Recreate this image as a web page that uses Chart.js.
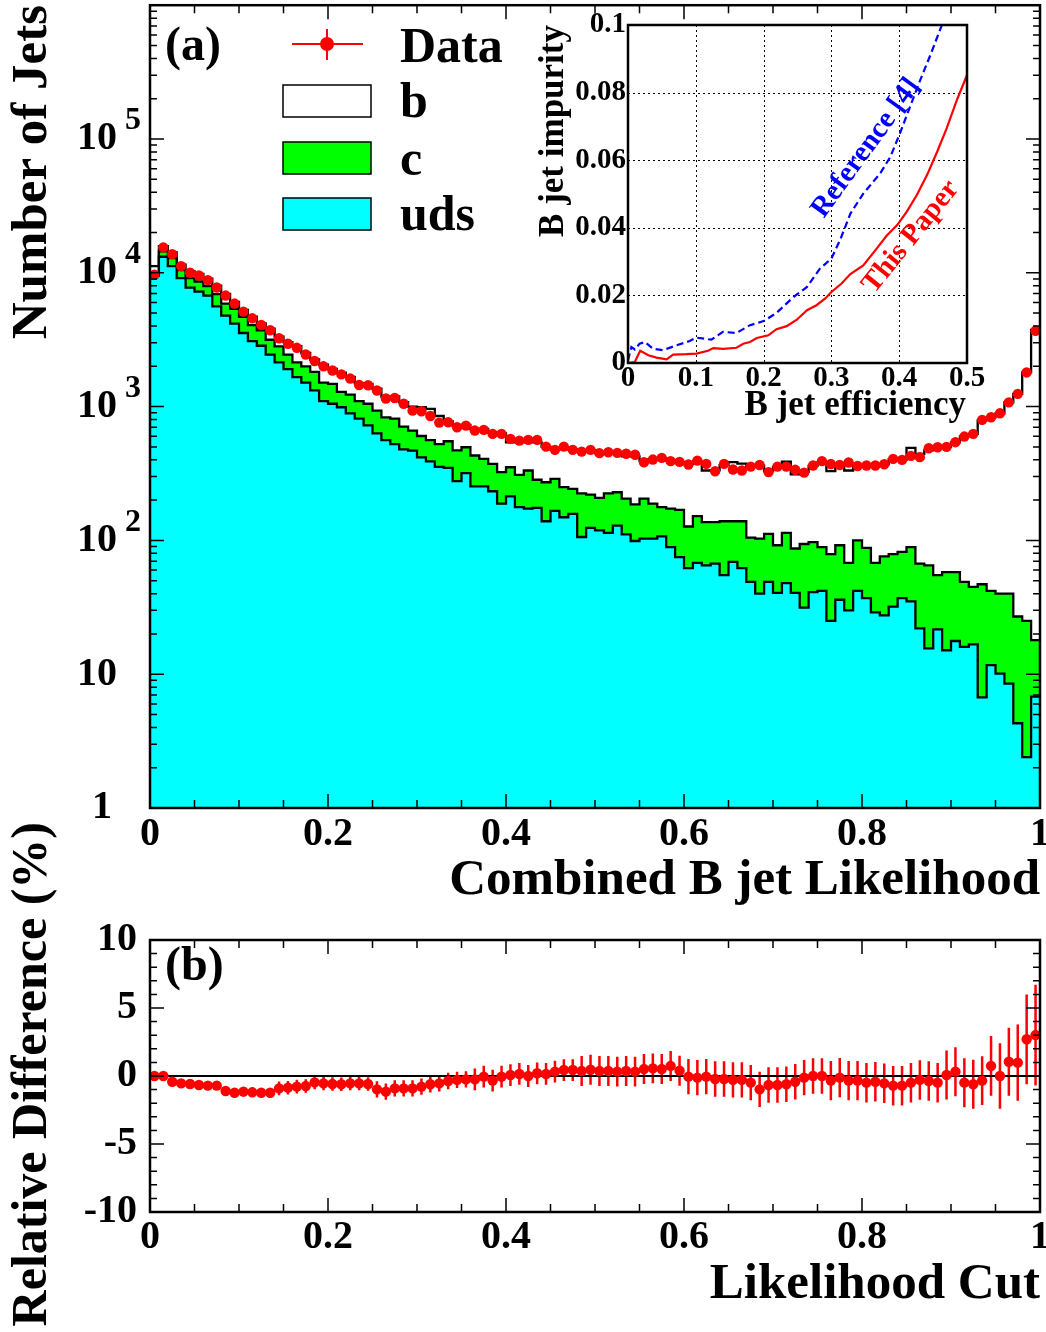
<!DOCTYPE html>
<html><head><meta charset="utf-8">
<script src="https://cdn.jsdelivr.net/npm/chart.js@4.4.1/dist/chart.umd.min.js"></script>
<style>
html,body{margin:0;padding:0;background:#fff;}
#wrap{position:relative;width:1046px;height:1332px;overflow:hidden;background:#fff;}
#wrap canvas{position:absolute;left:0;top:0;}
</style></head><body>
<div id="wrap">
<canvas id="main" width="1046" height="1332"></canvas>
<canvas id="diff" width="1046" height="1332"></canvas>
<canvas id="inset" width="1046" height="1332"></canvas>
</div>
<script>
// ---------- DATA ----------
const binWidth = 0.01;
const dataCounts = [9660,15500,13800,11220,10000,9550,8810,7760,6760,5890,
5130,4570,4070,3720,3240,2950,2750,2450,2190,2000,
1860,1740,1620,1450,1445,1320,1150,1160,1050,933,
923,851,759,764,701,721,662,670,625,625,
574,557,564,564,502,475,502,475,461,475,
449,456,451,444,437,384,402,414,391,386,
369,395,373,329,373,339,333,356,366,324,
356,356,337,321,363,391,372,366,382,360,
363,363,371,407,400,428,419,488,497,500,
542,597,625,796,832,891,1076,1245,1800,3690];
const bCounts = [11200,15850,14190,11500,10300,9800,9050,8000,6950,6050,
5280,4700,4180,3820,3330,3030,2830,2520,2250,2060,
1910,1790,1670,1500,1480,1360,1190,1190,1080,1000,
990,960,851,780,720,730,680,680,640,630,
540,540,540,540,500,478,495,478,462,470,
450,455,450,425,425,395,405,410,395,385,
372,390,333,335,365,384,375,355,362,330,
355,388,312,325,360,385,329,365,333,362,
363,360,370,405,400,492,444,470,497,500,
540,600,625,790,830,890,1076,1245,1800,3750];
const cCounts = [10000,14450,12880,10470,9120,8610,7940,6920,5890,5370,
4680,4070,3720,3160,2820,2450,2140,2000,1820,1510,
1480,1290,1230,1100,1050,933,832,813,708,661,
603,562,525,551,470,497,431,407,373,324,
352,309,333,284,272,288,250,243,225,220,
208,225,229,205,186,205,188,177,173,169,
127,152,137,137,139,139,139,105,103,112,
92,114,87,94,97,89,79,92,68,100,
88,68,76,79,82,89,67,65,55,58,
58,49,45,47,42,40,40,27,25,18];
const udsCounts = [9550,13180,11220,9120,7760,7240,6760,5620,4790,4170,
3550,3090,2850,2450,2140,1905,1660,1510,1320,1100,
1050,989,891,813,724,631,562,525,479,468,
417,389,355,348,277,318,253,253,233,188,
213,177,173,175,139,166,149,158,106,124,
119,114,129,111,99,103,103,107,89,75,
62,68,65,67,55,69,62,49,40,49,
40.5,48,40.5,31.5,41,42,25,36,30,42,
37,29,27.5,32,37,35,22,15.6,21.6,15.1,
17.7,16,16.7,6.7,11.7,10.1,8.5,4.3,2.4,6.8];
const relDiff = [0.0,0.0,-0.42,-0.54,-0.59,-0.66,-0.71,-0.71,-1.10,-1.23,
-1.15,-1.20,-1.23,-1.23,-0.91,-0.86,-0.78,-0.74,-0.47,-0.54,
-0.59,-0.61,-0.54,-0.54,-0.59,-0.98,-1.15,-0.91,-0.91,-0.91,
-0.78,-0.61,-0.54,-0.37,-0.29,-0.25,-0.25,-0.05,-0.34,-0.05,
0.07,0.15,0.0,0.2,0.15,0.32,0.44,0.44,0.37,0.46,
0.37,0.37,0.32,0.37,0.32,0.51,0.56,0.51,0.74,0.39,
-0.05,-0.12,-0.05,-0.22,-0.22,-0.29,-0.29,-0.49,-0.98,-0.66,
-0.66,-0.61,-0.42,-0.12,0.0,0.0,-0.34,-0.12,-0.34,-0.34,
-0.49,-0.42,-0.54,-0.71,-0.71,-0.49,-0.29,-0.37,-0.49,0.07,
0.32,-0.49,-0.61,-0.34,0.74,0.0,1.05,0.98,2.70,3.01];
const relDiffErr = [0.15,0.15,0.15,0.15,0.15,0.15,0.15,0.15,0.35,0.35,
0.35,0.35,0.35,0.35,0.5,0.5,0.5,0.5,0.5,0.5,
0.5,0.5,0.5,0.5,0.5,0.6,0.6,0.6,0.6,0.6,
0.6,0.6,0.6,0.6,0.6,0.6,0.8,0.8,0.8,0.8,
0.8,0.8,0.8,0.8,0.8,0.8,0.8,0.8,1.1,1.1,
1.1,1.1,1.1,1.1,1.1,1.1,1.1,1.1,1.1,1.1,
1.3,1.3,1.3,1.3,1.3,1.3,1.3,1.3,1.3,1.3,
1.3,1.3,1.3,1.3,1.3,1.3,1.45,1.45,1.45,1.45,
1.45,1.45,1.45,1.45,1.45,1.45,1.45,1.45,1.45,1.8,
1.8,1.8,1.8,1.8,2.2,2.4,2.5,2.8,3.3,3.7];
const effThis = [0,0.010,0.018,0.030,0.042,0.057,0.0665,0.086,0.101,0.118,0.126,0.140,0.160,0.170,0.180,0.190,0.207,0.219,0.234,0.249,0.264,0.278,0.291,0.300,0.315,0.328,0.347,0.367,0.382,0.397,0.411,0.426,0.441,0.456,0.470,0.485,0.495,0.500];
const impThis = [0,0.0003,0.0036,0.0023,0.0016,0.0011,0.0025,0.0026,0.0028,0.0036,0.0044,0.0042,0.0045,0.0057,0.0062,0.0074,0.0082,0.0100,0.0109,0.0128,0.0156,0.0171,0.0191,0.0210,0.0235,0.0263,0.0289,0.0339,0.0378,0.0408,0.0447,0.0497,0.0556,0.0625,0.0694,0.0778,0.0827,0.0852];
const effRef = [0,0.005,0.010,0.017,0.025,0.037,0.052,0.071,0.091,0.101,0.123,0.140,0.160,0.180,0.200,0.219,0.244,0.264,0.283,0.300,0.313,0.328,0.347,0.372,0.387,0.401,0.416,0.431,0.446,0.463];
const impRef = [0.0008,0.0047,0.0040,0.0057,0.0062,0.0042,0.0038,0.0052,0.0065,0.0075,0.0069,0.0092,0.0089,0.0112,0.0124,0.0148,0.0195,0.0225,0.0279,0.0309,0.0365,0.0442,0.0501,0.0561,0.0610,0.0679,0.0758,0.0837,0.0911,0.1000];
const xTickVals = [0,0.2,0.4,0.6,0.8,1];
const xTickLabels = ['0','0.2','0.4','0.6','0.8','1'];
const yDecades = [0,1,2,3,4,5];
const diffTickVals = [10,5,0,-5,-10];
const diffTickLabels = ['10','5','0','-5','-10'];
const insetXVals = [0,0.1,0.2,0.3,0.4,0.5];
const insetXLabels = ['0','0.1','0.2','0.3','0.4','0.5'];
const insetYVals = [0,0.02,0.04,0.06,0.08,0.1];
const insetYLabels = ['0','0.02','0.04','0.06','0.08','0.1'];

// ---------- helpers ----------
const SERIF = '"Liberation Serif","Times New Roman",serif';
const F = px => `bold ${px}px ${SERIF}`;
function txt(ctx, s, x, y, font, align, base, color, rot){
  ctx.save(); ctx.font = font; ctx.fillStyle = color || '#000';
  ctx.textAlign = align || 'left'; ctx.textBaseline = base || 'alphabetic';
  ctx.translate(x, y); if (rot) ctx.rotate(rot); ctx.fillText(s, 0, 0); ctx.restore();
}
function stepPoints(counts){
  const pts = counts.map((v, i) => ({x: i * binWidth, y: v}));
  pts.push({x: counts.length * binWidth, y: counts[counts.length - 1]});
  return pts;
}
function xTicks(ctx, a, x){
  ctx.beginPath();
  for (let k = 0; k <= 20; k++){
    const px = x.getPixelForValue(k * 0.05); const L = (k % 4 === 0) ? 14 : 8;
    ctx.moveTo(px, a.bottom); ctx.lineTo(px, a.bottom - L);
    ctx.moveTo(px, a.top); ctx.lineTo(px, a.top + L);
  }
  ctx.stroke();
}
const baseOpts = (pad) => ({
  responsive: false, animation: false, events: [],
  layout: {padding: pad},
  plugins: {legend: {display: false}, tooltip: {enabled: false}, title: {display: false}},
  elements: {line: {tension: 0}}
});

// ---------- MAIN ----------
const mainDecor = {
  id: 'mainDecor',
  afterDraw(chart){
    const {ctx, chartArea: a, scales: {x, y}} = chart;
    ctx.save();
    ctx.strokeStyle = '#000'; ctx.lineWidth = 1.5;
    xTicks(ctx, a, x);
    ctx.beginPath();
    for (const d of yDecades) for (let m = 1; m < 10; m++){
      const py = y.getPixelForValue(m * Math.pow(10, d)); const L = m === 1 ? 14 : 7;
      ctx.moveTo(a.left, py); ctx.lineTo(a.left + L, py);
      ctx.moveTo(a.right, py); ctx.lineTo(a.right - L, py);
    }
    ctx.stroke();
    ctx.lineWidth = 2.5; ctx.strokeRect(a.left, a.top, a.right - a.left, a.bottom - a.top);
    xTickVals.forEach((v, i) => txt(ctx, xTickLabels[i], x.getPixelForValue(v), 835, F(40), 'center', 'middle'));
    for (const d of yDecades){
      const py = y.getPixelForValue(Math.pow(10, d));
      if (d === 0) txt(ctx, '1', 112, py, F(40), 'right', 'middle');
      else {
        txt(ctx, '10', 117, py, F(40), 'right', 'middle');
        if (d > 1) txt(ctx, String(d), 125, py - 18, F(32), 'left', 'middle');
      }
    }
    txt(ctx, 'Combined B jet Likelihood', 1040, 894, F(51), 'right', 'alphabetic');
    txt(ctx, 'Number of Jets', 46, 5, F(51), 'right', 'alphabetic', '#000', -Math.PI/2);
    // legend
    txt(ctx, '(a)', 165, 48, F(48), 'left', 'middle');
    ctx.strokeStyle = '#ff0000'; ctx.lineWidth = 2;
    ctx.beginPath(); ctx.moveTo(292, 44); ctx.lineTo(363, 44); ctx.moveTo(327, 29); ctx.lineTo(327, 60); ctx.stroke();
    ctx.fillStyle = '#ff0000'; ctx.beginPath(); ctx.arc(327, 44, 7, 0, 2*Math.PI); ctx.fill();
    txt(ctx, 'Data', 400, 62, F(50), 'left', 'alphabetic');
    const boxes = [['b', '#ffffff', 85, 117], ['c', '#00ff00', 142, 175], ['uds', '#00ffff', 198, 230]];
    ctx.lineWidth = 1.5; ctx.strokeStyle = '#000';
    for (const [lab, col, top, base] of boxes){
      ctx.fillStyle = col; ctx.fillRect(283, top, 88, 32); ctx.strokeRect(283, top, 88, 32);
      txt(ctx, lab, 400, base, F(50), 'left', 'alphabetic');
    }
    ctx.restore();
  }
};
const histDs = (label, counts, color, order) => ({
  label, data: stepPoints(counts), stepped: true, fill: 'start',
  backgroundColor: color, borderColor: '#000', borderWidth: 2.3, pointRadius: 0, order
});
new Chart(document.getElementById('main'), {
  type: 'line',
  data: {datasets: [
    {label: 'Data', data: dataCounts.map((v, i) => ({x: (i + 0.5) * binWidth, y: v})), showLine: false,
     pointRadius: 5.2, pointBackgroundColor: '#ff0000', pointBorderColor: '#ff0000', pointBorderWidth: 0, order: 1},
    histDs('uds', udsCounts, '#00ffff', 2),
    histDs('c', cCounts, '#00ff00', 3),
    histDs('b', bCounts, '#ffffff', 4)
  ]},
  options: Object.assign(baseOpts({left: 150, top: 5, right: 6, bottom: 1332 - 808}), {
    scales: {x: {type: 'linear', min: 0, max: 1, display: false},
             y: {type: 'logarithmic', min: 1, max: 1e6, display: false}}
  }),
  plugins: [mainDecor]
});

// ---------- DIFF ----------
const diffDecor = {
  id: 'diffDecor',
  beforeDatasetsDraw(chart){
    const {ctx, scales: {x, y}} = chart;
    ctx.save(); ctx.strokeStyle = '#ff0000'; ctx.lineWidth = 2.5; ctx.beginPath();
    relDiff.forEach((v, i) => {
      const px = x.getPixelForValue((i + 0.5) * binWidth);
      ctx.moveTo(px, y.getPixelForValue(v - relDiffErr[i])); ctx.lineTo(px, y.getPixelForValue(v + relDiffErr[i]));
    });
    ctx.stroke(); ctx.restore();
  },
  afterDraw(chart){
    const {ctx, chartArea: a, scales: {x, y}} = chart;
    ctx.save(); ctx.strokeStyle = '#000'; ctx.lineWidth = 1.5;
    xTicks(ctx, a, x);
    ctx.beginPath();
    for (let v = -10; v <= 10; v++){
      const py = y.getPixelForValue(v); const L = (v % 5 === 0) ? 14 : 7;
      ctx.moveTo(a.left, py); ctx.lineTo(a.left + L, py);
      ctx.moveTo(a.right, py); ctx.lineTo(a.right - L, py);
    }
    ctx.stroke();
    ctx.lineWidth = 2.5; ctx.strokeRect(a.left, a.top, a.right - a.left, a.bottom - a.top);
    xTickVals.forEach((v, i) => txt(ctx, xTickLabels[i], x.getPixelForValue(v), 1238, F(40), 'center', 'middle'));
    diffTickVals.forEach((v, i) => txt(ctx, diffTickLabels[i], 137, y.getPixelForValue(v), F(40), 'right', 'middle'));
    txt(ctx, 'Likelihood Cut', 1040, 1298, F(51), 'right', 'alphabetic');
    txt(ctx, '(b)', 165, 968, F(48), 'left', 'middle');
    txt(ctx, 'Relative Difference (%)', 46, 822, F(50), 'right', 'alphabetic', '#000', -Math.PI/2);
    ctx.restore();
  }
};
new Chart(document.getElementById('diff'), {
  type: 'line',
  data: {datasets: [
    {label: 'diff', data: relDiff.map((v, i) => ({x: (i + 0.5) * binWidth, y: v})), showLine: false,
     pointRadius: 5.2, pointBackgroundColor: '#ff0000', pointBorderColor: '#ff0000', pointBorderWidth: 0, order: 1},
    {label: 'zero', data: [{x: 0, y: 0}, {x: 1, y: 0}], borderColor: '#000', borderWidth: 2, pointRadius: 0, fill: false, order: 2}
  ]},
  options: Object.assign(baseOpts({left: 150, top: 940, right: 6, bottom: 1332 - 1212}), {
    scales: {x: {type: 'linear', min: 0, max: 1, display: false},
             y: {type: 'linear', min: -10, max: 10, display: false}}
  }),
  plugins: [diffDecor]
});

// ---------- INSET ----------
const insetDecor = {
  id: 'insetDecor',
  beforeDatasetsDraw(chart){
    const {ctx, chartArea: a, scales: {x, y}} = chart;
    ctx.save(); ctx.fillStyle = '#fff'; ctx.fillRect(a.left, a.top, a.right - a.left, a.bottom - a.top);
    ctx.strokeStyle = '#000'; ctx.lineWidth = 1; ctx.setLineDash([2, 3]); ctx.beginPath();
    for (const v of insetXVals.slice(1, -1)){ const px = Math.round(x.getPixelForValue(v)) + 0.5; ctx.moveTo(px, a.top); ctx.lineTo(px, a.bottom); }
    for (const v of insetYVals.slice(1, -1)){ const py = Math.round(y.getPixelForValue(v)) + 0.5; ctx.moveTo(a.left, py); ctx.lineTo(a.right, py); }
    ctx.stroke(); ctx.restore();
  },
  afterDraw(chart){
    const {ctx, chartArea: a, scales: {x, y}} = chart;
    ctx.save(); ctx.strokeStyle = '#000'; ctx.lineWidth = 2.5;
    ctx.strokeRect(a.left, a.top, a.right - a.left, a.bottom - a.top);
    insetXVals.forEach((v, i) => txt(ctx, insetXLabels[i], x.getPixelForValue(v), 379, F(29), 'center', 'middle'));
    insetYVals.forEach((v, i) => txt(ctx, insetYLabels[i], 626, y.getPixelForValue(v), F(29), 'right', 'middle'));
    txt(ctx, 'B jet efficiency', 966, 415, F(35), 'right', 'alphabetic');
    txt(ctx, 'B jet impurity', 563, 25, F(35), 'right', 'alphabetic', '#000', -Math.PI/2);
    txt(ctx, 'Reference [4]', 866, 148, F(29), 'center', 'middle', '#0000ff', -54 * Math.PI / 180);
    txt(ctx, 'This Paper', 911, 237, F(29), 'center', 'middle', '#ff0000', -51 * Math.PI / 180);
    ctx.restore();
  }
};
new Chart(document.getElementById('inset'), {
  type: 'line',
  data: {datasets: [
    {label: 'This Paper', data: effThis.map((v, i) => ({x: v, y: impThis[i]})), borderColor: '#ff0000', borderWidth: 2.2, pointRadius: 0, fill: false},
    {label: 'Reference [4]', data: effRef.map((v, i) => ({x: v, y: impRef[i]})), borderColor: '#0000ff', borderWidth: 2.2, borderDash: [7, 4], pointRadius: 0, fill: false}
  ]},
  options: Object.assign(baseOpts({left: 628, top: 25, right: 1046 - 967, bottom: 1332 - 363}), {
    scales: {x: {type: 'linear', min: 0, max: 0.5, display: false},
             y: {type: 'linear', min: 0, max: 0.1, display: false}}
  }),
  plugins: [insetDecor]
});
</script>
</body></html>
